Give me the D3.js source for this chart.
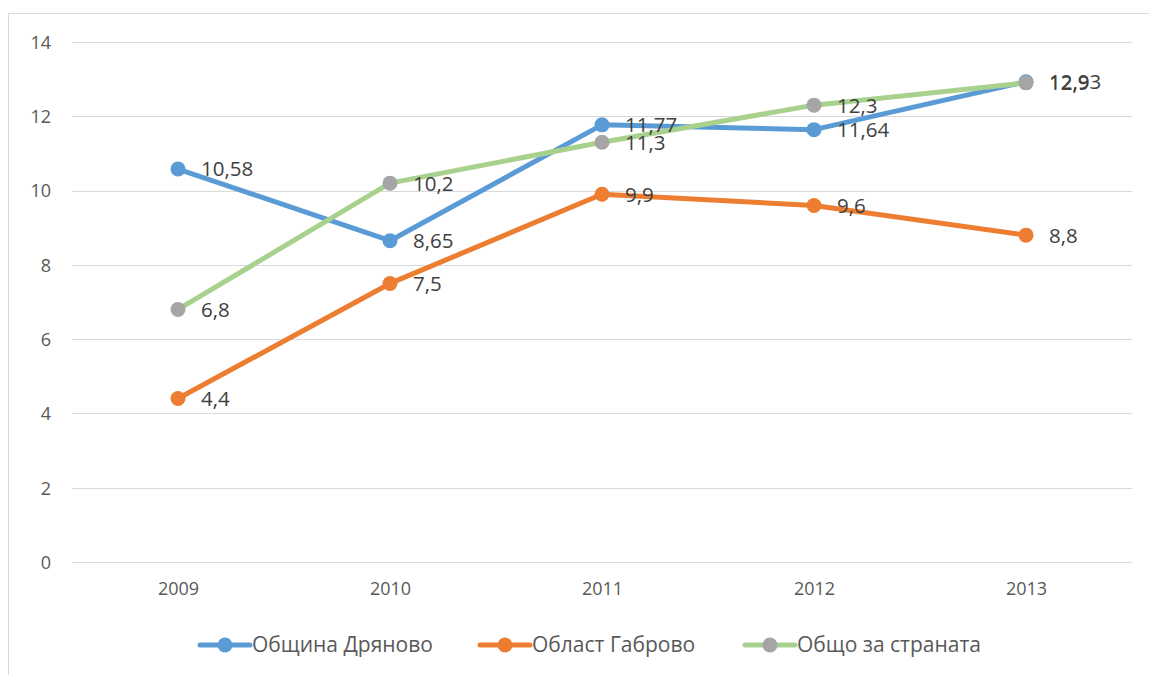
<!DOCTYPE html>
<html><head><meta charset="utf-8">
<script src="https://cdn.jsdelivr.net/npm/d3@7"></script>
<style>body{margin:0;background:#fff;}svg{display:block;}</style>
</head><body>
<svg id="c" width="1149" height="675"></svg>
<script>
const years = ["2009","2010","2011","2012","2013"];
const dryanovo = [10.58, 8.65, 11.77, 11.64, 12.93];
const gabrovo = [4.4, 7.5, 9.9, 9.6, 8.8];
const country = [6.8, 10.2, 11.3, 12.3, 12.9];
const seriesNames = ["Община Дряново", "Област Габрово", "Общо за страната"];
const yTicks = [0,2,4,6,8,10,12,14];

const series = [
  {name: seriesNames[0], values: dryanovo, line: "#5B9BD5", marker: "#5B9BD5"},
  {name: seriesNames[1], values: gabrovo, line: "#ED7D31", marker: "#ED7D31"},
  {name: seriesNames[2], values: country, line: "#A9D18E", marker: "#A5A5A5"}
];

const svg = d3.select("#c");
const W = 1149, H = 675;
const plotL = 72, plotR = 1132, plotT = 42, plotB = 562;

svg.append("rect").attr("x",8.5).attr("y",13.5).attr("width",W+10).attr("height",H+10)
  .attr("fill","none").attr("stroke","#d9d9d9").attr("stroke-width",1);

const x = d3.scalePoint().domain(years).range([plotL, plotR]).padding(0.5);
const y = d3.scaleLinear().domain([0,14]).range([plotB, plotT]);

const font = "'Open Sans', 'Noto Sans', sans-serif";

// gridlines
svg.append("g").selectAll("line").data(yTicks).join("line")
  .attr("x1", plotL).attr("x2", plotR)
  .attr("y1", d => Math.round(y(d)) + 0.5).attr("y2", d => Math.round(y(d)) + 0.5)
  .attr("stroke", "#d9d9d9").attr("stroke-width", 1);

// y axis labels
const yAxis = d3.axisLeft(y).tickValues(yTicks).tickSize(0).tickPadding(0).tickFormat(d3.format("d"));
const gy = svg.append("g").attr("transform", `translate(${plotL-21},0)`).call(yAxis);
gy.select(".domain").remove();
gy.selectAll("text").attr("font-family", font).attr("font-size", 18).attr("fill", "#595959").attr("dy","0.35em");

// x axis labels
const xAxis = d3.axisBottom(x).tickSize(0).tickPadding(0);
const gx = svg.append("g").attr("transform", `translate(0,${plotB+20})`).call(xAxis);
gx.select(".domain").remove();
gx.selectAll("text").attr("font-family", font).attr("font-size", 18).attr("fill", "#595959").attr("dy","0.71em");

const line = d3.line().x((d,i) => x(years[i])).y(d => y(d));
const fmt = v => String(v).replace(".", ",");

series.forEach(s => {
  const g = svg.append("g");
  g.append("path").datum(s.values).attr("d", line)
    .attr("fill","none").attr("stroke", s.line).attr("stroke-width", 5)
    .attr("stroke-linejoin","round").attr("stroke-linecap","round");
  g.selectAll("circle").data(s.values).join("circle")
    .attr("cx", (d,i) => x(years[i])).attr("cy", d => y(d)).attr("r", 7.5)
    .attr("fill", s.marker);
});

series.forEach(s => {
  svg.append("g").selectAll("text").data(s.values).join("text")
    .attr("x", (d,i) => x(years[i]) + 23).attr("y", d => y(d)).attr("dy","0.36em")
    .attr("font-family", font).attr("font-size", 20.5).attr("fill", "#404040")
    .text(d => fmt(d));
});

// legend
const legendX = [200, 480, 745];
const lg = svg.append("g").attr("transform", `translate(0,645)`);
series.forEach((s, i) => {
  const g = lg.append("g").attr("transform", `translate(${legendX[i]},0)`);
  g.append("line").attr("x1",0).attr("x2",50).attr("y1",0).attr("y2",0)
    .attr("stroke", s.line).attr("stroke-width",5).attr("stroke-linecap","round");
  g.append("circle").attr("cx",25).attr("cy",0).attr("r",7.5).attr("fill", s.marker);
  g.append("text").attr("x",52).attr("y",0).attr("dy","0.35em")
    .attr("font-family", font).attr("font-size", 21).attr("fill","#595959")
    .text(s.name);
});
</script>
</body></html>
